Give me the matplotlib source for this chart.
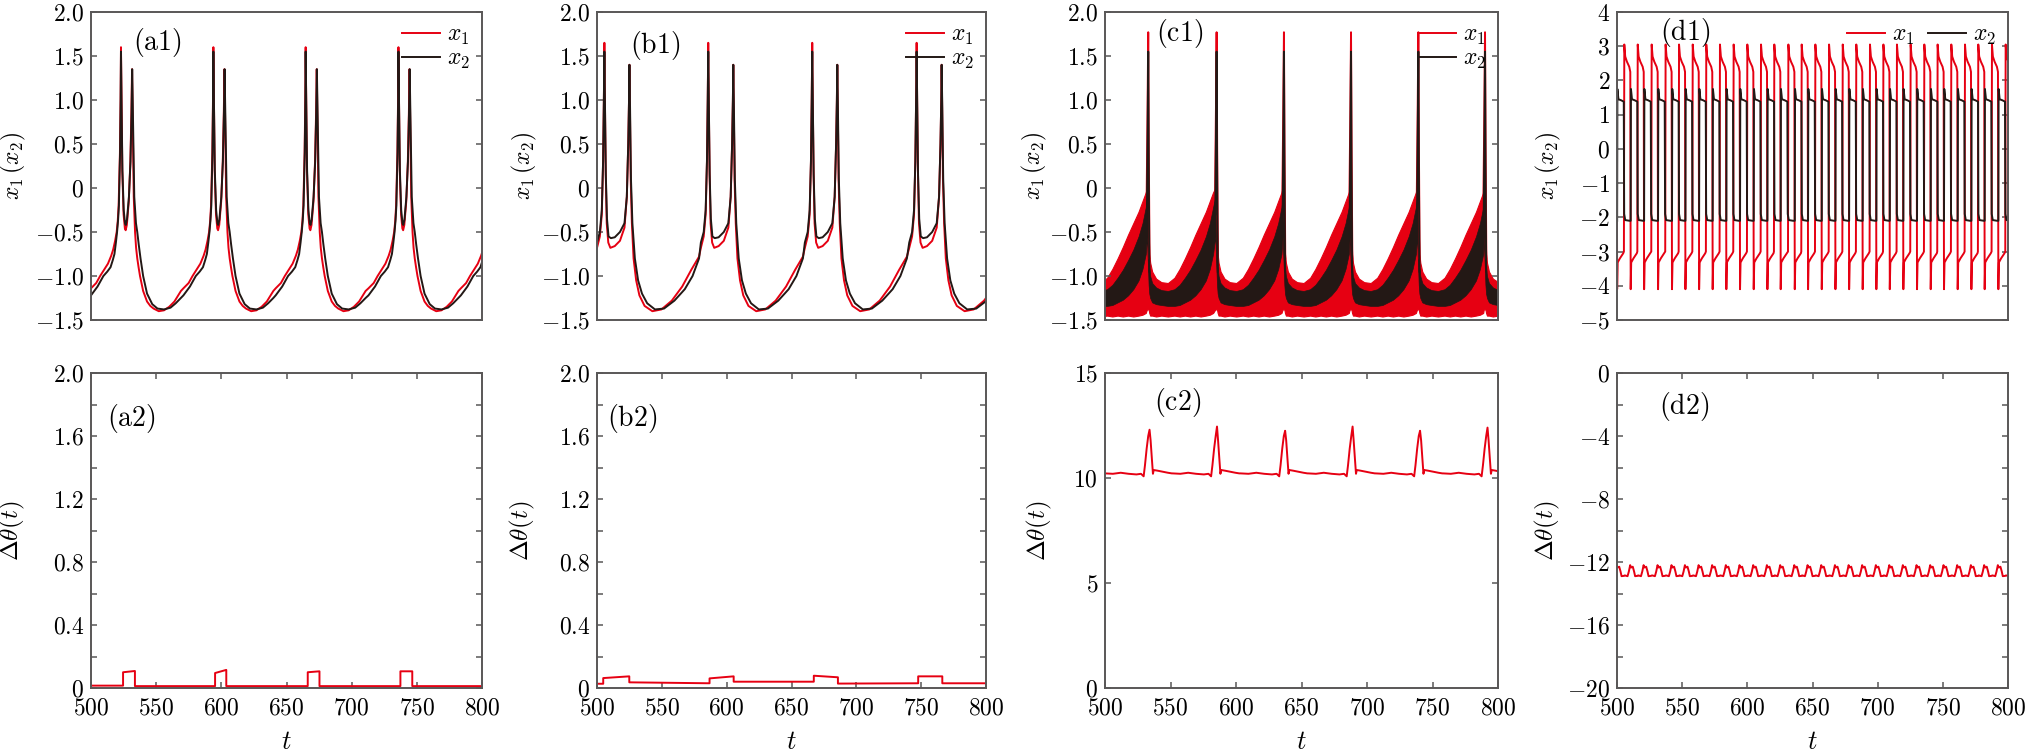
import numpy as np
import matplotlib
matplotlib.use("Agg")
import matplotlib.pyplot as plt
from matplotlib.lines import Line2D

plt.rcParams["mathtext.fontset"] = "cm"
plt.rcParams["font.family"] = "serif"
plt.rcParams["font.serif"] = ["cmr10", "DejaVu Serif"]

RED = "#e60012"
BLACK = "#231815"
GREY = "#595757"

t_ticks = [500, 550, 600, 650, 700, 750, 800]
t_labels = ["500", "550", "600", "650", "700", "750", "800"]

# ---------------- (a1): burst start times + one burst cycle
a1_bursts = [523.0, 593.9, 664.7, 735.9, 806.8]
a1_off_x1 = [-23, -19, -16, -13, -10, -7.5, -6, -4.5, -3.3, -2.5, -1.8, -0.8, -0.3, 0, 0.4, 1.0, 2.0,
             3.0, 3.6, 4.5, 6.0, 7.2, 8.0, 8.5, 9.0, 9.8, 10.8, 11.6, 12.5, 13.5, 14.6, 17, 20, 22.5,
             25, 29, 33, 37, 41, 46]
a1_x1 = [-1.14, -1.08, -1.0, -0.93, -0.86, -0.77, -0.7, -0.6, -0.5, -0.38, -0.2, 0.4, 1.0, 1.6, 1.0,
         0.2, -0.3, -0.46, -0.48, -0.42, -0.15, 0.3, 0.85, 1.35, 0.8, -0.1, -0.5, -0.68, -0.8, -0.9,
         -1.0, -1.17, -1.29, -1.34, -1.37, -1.4, -1.39, -1.35, -1.29, -1.17]
a1_off_x2 = [-23, -18, -13.5, -10.5, -8, -6.3, -5, -3.9, -3.0, -2.2, -1.6, -0.7, -0.25, 0, 0.45, 1.1,
             2.1, 3.1, 3.7, 4.6, 6.1, 7.3, 8.1, 8.6, 9.2, 10.2, 11.5, 12.5, 13.6, 15, 17, 20, 24, 28,
             33, 38, 42, 46]
a1_x2 = [-1.22, -1.12, -1.0, -0.95, -0.9, -0.82, -0.75, -0.62, -0.5, -0.36, -0.2, 0.4, 1.0, 1.55, 0.95,
         0.2, -0.25, -0.4, -0.42, -0.36, -0.1, 0.3, 0.85, 1.35, 0.8, -0.1, -0.4, -0.5, -0.64, -0.8,
         -1.0, -1.2, -1.32, -1.37, -1.38, -1.36, -1.31, -1.25]

# ---------------- (b1)
b1_bursts = [505.7, 585.8, 666.0, 746.5]
b1_off_x1 = [-5.7, -3.5, -2.0, -1.0, -0.4, 0, 0.4, 1.0, 1.8, 3.0, 4.6, 8, 12, 15.5, 17.3, 18.4,
             19.0, 19.3, 19.7, 20.3, 21.2, 22.5, 24.5, 27, 31, 37, 44, 52, 60, 67, 73]
b1_x1 = [-0.68, -0.55, -0.3, 0.3, 1.0, 1.65, 1.0, 0.2, -0.4, -0.62, -0.68, -0.66, -0.6, -0.45, -0.1, 0.5,
         1.0, 1.4, 0.9, 0.1, -0.4, -0.8, -1.05, -1.22, -1.34, -1.4, -1.38, -1.28, -1.12, -0.93, -0.78]
b1_off_x2 = [-5.7, -3.5, -2.0, -1.0, -0.4, 0, 0.45, 1.1, 2.0, 3.2, 5, 8, 12, 15.5, 17.3, 18.4,
             19.0, 19.3, 19.8, 20.5, 21.6, 23.5, 26, 29, 33, 39, 46, 54, 62, 68, 73]
b1_x2 = [-0.62, -0.5, -0.25, 0.3, 1.0, 1.55, 0.95, 0.15, -0.35, -0.55, -0.57, -0.56, -0.5, -0.4, -0.1, 0.5,
         1.0, 1.4, 0.9, 0.1, -0.4, -0.8, -1.05, -1.2, -1.31, -1.38, -1.37, -1.28, -1.15, -1.0, -0.8]

# ---------------- (c1): fast oscillation drawn as envelopes, plus spikes
c1_spikes = [481.6, 533.0, 585.2, 636.6, 687.8, 739.2, 790.1]
c1_off = [-1.0, 0.3, 0.8, 1.5, 3, 6, 10, 15, 20, 24, 28, 32, 36, 40, 44, 47, 49.5]
c1_x1_hi = [0.0, -0.5, -0.75, -0.85, -0.95, -1.03, -1.07, -1.08, -1.02, -0.92, -0.8, -0.67, -0.53, -0.4, -0.27, -0.15, -0.05]
c1_x1_lo = [-1.38, -1.38, -1.42, -1.45, -1.45, -1.46, -1.45, -1.46, -1.45, -1.46, -1.45, -1.46, -1.45, -1.46, -1.45, -1.44, -1.42]
c1_x2_hi = [-0.1, -0.7, -0.9, -1.0, -1.08, -1.13, -1.16, -1.17, -1.15, -1.1, -1.02, -0.93, -0.82, -0.7, -0.55, -0.4, -0.22]
c1_x2_lo = [-0.55, -1.1, -1.2, -1.25, -1.3, -1.32, -1.33, -1.34, -1.34, -1.33, -1.3, -1.27, -1.22, -1.15, -1.05, -0.92, -0.75]
c1_spk_off_x1 = [-1.2, -0.5, 0, 0.4, 1.0]
c1_spk_x1 = [-0.1, 0.9, 1.77, 0.5, -0.8]
c1_spk_off_x2 = [-1.0, -0.4, 0, 0.35, 0.9]
c1_spk_x2 = [-0.3, 0.7, 1.55, 0.3, -0.95]

# ---------------- (d1) / (d2): red peak times
d_peaks = [495.2, 505.6, 515.9, 526.6, 537.3, 547.6, 558.1, 568.5, 579.0, 589.5, 600.0, 610.5,
           620.7, 631.5, 641.7, 652.2, 662.7, 673.2, 683.6, 694.1, 704.4, 714.8, 725.3,
           735.8, 746.0, 756.5, 767.0, 777.2, 787.7, 798.2]
d1_off_x1 = [-0.3, 0.0, 0.7, 2.0, 3.8, 4.6, 4.9, 5.3, 7.0, 9.6]
d1_x1 = [-3.0, 3.05, 2.7, 2.55, 2.4, 2.25, -4.1, -3.32, -3.2, -3.05]
d1_off_x2 = [4.9, 5.1, 5.9, 8.0, 10.0, 10.3, 11.1, 14.3]
d1_x2 = [-2.1, 1.75, 1.45, 1.42, 1.38, -1.9, -2.08, -2.1]
d2_off = [0.3, 2.5, 3.5, 4.5, 5.2, 6.5, 7.5, 8.3, 10.2]
d2_dtheta = [-12.85, -12.9, -12.6, -12.2, -12.35, -12.3, -12.6, -12.9, -12.88]

# ---------------- (a2), (b2)
a2_t = [500, 524.6, 524.6, 533.7, 533.7, 595.2, 595.2, 603.8, 603.8, 666.3, 666.3, 675.3, 675.3,
        737.4, 737.4, 746.5, 746.5, 800]
a2_dtheta = [0.015, 0.015, 0.100, 0.108, 0.012, 0.012, 0.095, 0.115, 0.012, 0.012, 0.100, 0.106, 0.012,
             0.012, 0.106, 0.106, 0.012, 0.012]
b2_t = [500, 504.8, 504.8, 524.9, 524.9, 586.8, 586.8, 605.4, 605.4, 667.2, 667.2, 685.8, 685.8,
        747.7, 747.7, 766.3, 766.3, 800]
b2_dtheta = [0.027, 0.027, 0.063, 0.074, 0.036, 0.03, 0.061, 0.074, 0.04, 0.04, 0.078, 0.068, 0.028,
             0.03, 0.074, 0.074, 0.03, 0.03]

# ---------------- (c2)
c2_peaks = [534.0, 585.5, 637.5, 689.0, 740.5, 792.0]
c2_heights = [12.3, 12.45, 12.25, 12.45, 12.25, 12.4]
c2_off = [-34, -28, -22, -16, -10, -6.5, -4.5, -3.5, -2.2, -1.0, 0, 0.8, 1.8, 2.6, 3.2, 6, 10, 14, 17]
c2_dtheta = [10.22, 10.2, 10.25, 10.2, 10.17, 10.2, 10.08, 10.6, 11.4, 12.0, None, 11.8, 10.9, 10.2,
             10.38, 10.35, 10.3, 10.25, 10.22]


def tile(events, offs, vals, gap=False):
    t, y = [], []
    for e in events:
        t.extend(e + o for o in offs)
        y.extend(vals)
        if gap:
            t.append(np.nan)
            y.append(np.nan)
    return np.array(t, dtype=float), np.array(y, dtype=float)


def style(ax, ylim, yticks, ylabels, yminor=None, bottom=False):
    ax.set_xlim(500, 800)
    ax.set_ylim(*ylim)
    ax.set_yticks(yticks)
    ax.set_yticklabels([f"${s}$" for s in ylabels])
    if yminor is not None:
        ax.set_yticks(yminor, minor=True)
    for sp in ax.spines.values():
        sp.set_color(GREY)
        sp.set_linewidth(1.4)
    ax.tick_params(which="both", direction="in", color=GREY, width=1.1, length=4,
                   left=True, right=True, labelsize=17, pad=5)
    if bottom:
        ax.set_xticks(t_ticks)
        ax.set_xticklabels([f"${s}$" for s in t_labels])
        ax.tick_params(axis="x", top=True, bottom=True, pad=7)
        ax.set_xlabel(r"$t$", fontsize=19)
        ax.xaxis.set_label_coords(0.5, -0.135)
    else:
        ax.set_xticks([])


W, H = 2035, 753
lefts = [91, 597, 1105, 1617]
widths = [391, 389, 393, 391]
fig = plt.figure(figsize=(W / 100, H / 100), dpi=100)
top_axes = [fig.add_axes([l / W, (H - 320) / H, w / W, 308 / H]) for l, w in zip(lefts, widths)]
bot_axes = [fig.add_axes([l / W, (H - 688) / H, w / W, 315 / H]) for l, w in zip(lefts, widths)]
ax_a1, ax_b1, ax_c1, ax_d1 = top_axes
ax_a2, ax_b2, ax_c2, ax_d2 = bot_axes

lw = 1.4
xl = r"$x_1\,(x_2)$"
dl = r"$\Delta\theta(t)$"

top_ticks = [-1.5, -1.0, -0.5, 0, 0.5, 1.0, 1.5, 2.0]
top_labels = ["-1.5", "-1.0", "-0.5", "0", "0.5", "1.0", "1.5", "2.0"]

# (a1)
t, y = tile(a1_bursts, a1_off_x1, a1_x1)
ax_a1.plot(t, y, color=RED, lw=lw)
t, y = tile(a1_bursts, a1_off_x2, a1_x2)
ax_a1.plot(t, y, color=BLACK, lw=lw)

# (b1)
t, y = tile(b1_bursts, b1_off_x1, b1_x1)
ax_b1.plot(t, y, color=RED, lw=lw)
t, y = tile(b1_bursts, b1_off_x2, b1_x2)
ax_b1.plot(t, y, color=BLACK, lw=lw)

# (c1)
t, hi = tile(c1_spikes, c1_off, c1_x1_hi)
_, lo = tile(c1_spikes, c1_off, c1_x1_lo)
ax_c1.fill_between(t, lo, hi, color=RED, lw=0.8, edgecolor=RED)
t, hi = tile(c1_spikes, c1_off, c1_x2_hi)
_, lo = tile(c1_spikes, c1_off, c1_x2_lo)
ax_c1.fill_between(t, lo, hi, color=BLACK, lw=0.5, edgecolor=BLACK)
t, y = tile(c1_spikes[1:], c1_spk_off_x1, c1_spk_x1, gap=True)
ax_c1.plot(t, y, color=RED, lw=lw)
t, y = tile(c1_spikes[1:], c1_spk_off_x2, c1_spk_x2, gap=True)
ax_c1.plot(t, y, color=BLACK, lw=lw)

# (d1)
t, y = tile(d_peaks, d1_off_x1, d1_x1)
ax_d1.plot(t, y, color=RED, lw=lw)
t, y = tile(d_peaks, d1_off_x2, d1_x2)
ax_d1.plot(t, y, color=BLACK, lw=lw)

for ax in (ax_a1, ax_b1, ax_c1):
    style(ax, (-1.5, 2.0), top_ticks, top_labels)
style(ax_d1, (-5, 4), list(range(-5, 5)), [str(v) for v in range(-5, 5)])

handles = [Line2D([], [], color=RED, lw=lw), Line2D([], [], color=BLACK, lw=lw)]
names = [r"$x_1$", r"$x_2$"]
for ax in (ax_a1, ax_b1, ax_c1):
    ax.legend(handles, names, loc="upper right", frameon=False, fontsize=17,
              handlelength=1.6, handletextpad=0.3, labelspacing=0.05, borderaxespad=0.1)
ax_d1.legend(handles, names, loc="upper right", frameon=False, fontsize=17, ncol=2,
             handlelength=1.6, handletextpad=0.3, columnspacing=0.6, borderaxespad=0.1)

# (a2), (b2)
ax_a2.plot(a2_t, a2_dtheta, color=RED, lw=lw)
ax_b2.plot(b2_t, b2_dtheta, color=RED, lw=lw)
small_ticks = [0, 0.4, 0.8, 1.2, 1.6, 2.0]
small_labels = ["0", "0.4", "0.8", "1.2", "1.6", "2.0"]
for ax in (ax_a2, ax_b2):
    style(ax, (0, 2.0), small_ticks, small_labels,
          yminor=[0.2, 0.6, 1.0, 1.4, 1.8], bottom=True)

# (c2)
t, y = [], []
for p, h in zip(c2_peaks, c2_heights):
    t.extend(p + o for o in c2_off)
    y.extend(h if v is None else v for v in c2_dtheta)
ax_c2.plot(t, y, color=RED, lw=lw)
style(ax_c2, (0, 15), [0, 5, 10, 15], ["0", "5", "10", "15"], bottom=True)

# (d2)
t, y = tile(d_peaks, d2_off, d2_dtheta)
ax_d2.plot(t, y, color=RED, lw=lw)
style(ax_d2, (-20, 0), [-20, -16, -12, -8, -4, 0], ["-20", "-16", "-12", "-8", "-4", "0"],
      yminor=[-18, -14, -10, -6, -2], bottom=True)

# axis labels
for ax, xc in zip(top_axes, [-0.161, -0.149, -0.142, -0.138]):
    ax.set_ylabel(xl, fontsize=17)
    ax.yaxis.set_label_coords(xc, 0.5)
for ax, xc in zip(bot_axes, [-0.164, -0.154, -0.13, -0.141]):
    ax.set_ylabel(dl, fontsize=18)
    ax.yaxis.set_label_coords(xc, 0.5)

# panel tags
tags = [(ax_a1, "(a1)", 0.107, 0.90), (ax_b1, "(b1)", 0.085, 0.89),
        (ax_c1, "(c1)", 0.13, 0.93), (ax_d1, "(d1)", 0.11, 0.935),
        (ax_a2, "(a2)", 0.04, 0.857), (ax_b2, "(b2)", 0.025, 0.857),
        (ax_c2, "(c2)", 0.124, 0.905), (ax_d2, "(d2)", 0.107, 0.893)]
for ax, s, x, yy in tags:
    ax.text(x, yy, r"$\mathrm{" + s + "}$", transform=ax.transAxes, fontsize=20,
            ha="left", va="center")

fig.savefig("out.png", dpi=100)
